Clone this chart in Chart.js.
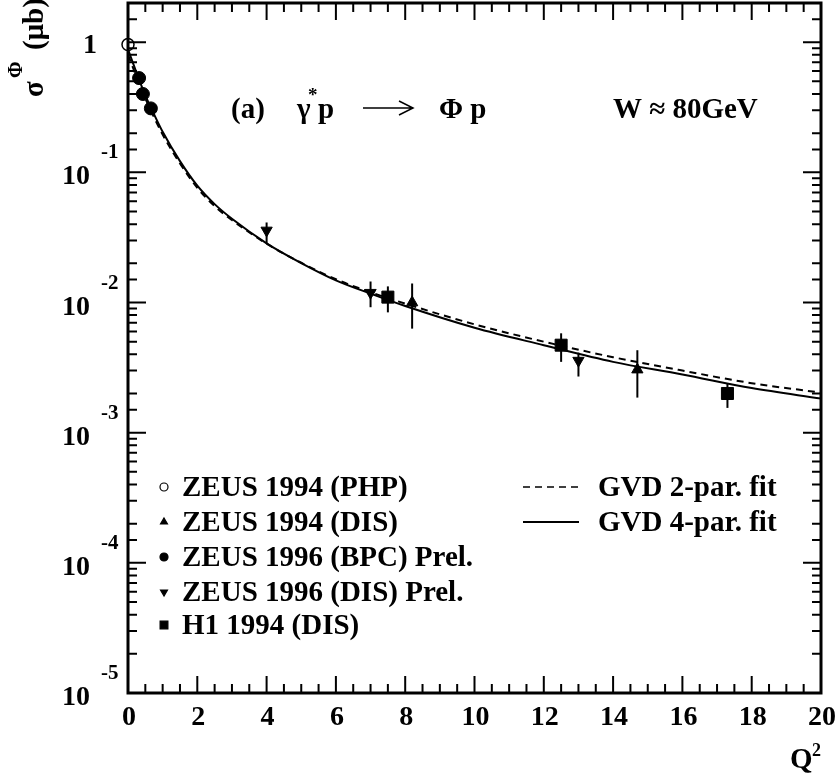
<!DOCTYPE html>
<html>
<head>
<meta charset="utf-8">
<script src="https://cdn.jsdelivr.net/npm/chart.js@4.4.0/dist/chart.umd.min.js"></script>
<style>
  html, body { margin: 0; padding: 0; background: #fff; }
  #wrap { width: 837px; height: 779px; }
</style>
</head>
<body>
<div id="wrap"><canvas id="chart" width="837" height="779"></canvas></div>
<script>
// 数据：ZEUS 1994 (PHP)
const phpQ2 = [0.0];
const phpSigma = [0.96];

// ZEUS 1994 (DIS)
const zeus94Q2 = [8.2, 14.7];
const zeus94Sigma = [0.0100, 0.00305];
const zeus94Hi = [0.0140, 0.0043];
const zeus94Lo = [0.0063, 0.00186];

// ZEUS 1996 (BPC) Prel.
const bpcQ2 = [0.32, 0.43, 0.66];
const bpcSigma = [0.53, 0.40, 0.31];

// ZEUS 1996 (DIS) Prel.
const zeus96Q2 = [4.0, 7.0, 13.0];
const zeus96Sigma = [0.0358, 0.0119, 0.00358];
const zeus96Hi = [0.0412, 0.0145, 0.00412];
const zeus96Lo = [0.0284, 0.0092, 0.0027];

// H1 1994 (DIS)
const h1Q2 = [7.5, 12.5, 17.3];
const h1Sigma = [0.0110, 0.0047, 0.0020];
const h1Hi = [0.0133, 0.0058, 0.0024];
const h1Lo = [0.0084, 0.0035, 0.00155];

// GVD 拟合曲线
const fitQ2 = [0, 0.25, 0.5, 0.75, 1, 1.5, 2, 2.5, 3, 4, 5, 6, 7, 8, 10, 12, 14, 16, 18, 20];
const fit4Par = [0.88, 0.58, 0.39, 0.28, 0.205, 0.122, 0.079, 0.057, 0.044, 0.0285, 0.0201, 0.0148, 0.0117, 0.0094, 0.0064, 0.0047, 0.0035, 0.0028, 0.0022, 0.00183];
const fit2Par = [0.80, 0.54, 0.37, 0.265, 0.195, 0.117, 0.076, 0.055, 0.043, 0.0283, 0.0202, 0.0151, 0.0120, 0.0098, 0.0068, 0.0050, 0.0038, 0.0030, 0.0024, 0.00203];

// 刻度标签
const xTickLabels = [0, 2, 4, 6, 8, 10, 12, 14, 16, 18, 20];
const yExponents = [0, -1, -2, -3, -4, -5];

const legendLeft = ['ZEUS 1994 (PHP)', 'ZEUS 1994 (DIS)', 'ZEUS 1996 (BPC) Prel.', 'ZEUS 1996 (DIS) Prel.', 'H1 1994 (DIS)'];
const legendRight = ['GVD 2-par. fit', 'GVD 4-par. fit'];

const SERIF = '"Liberation Serif", "Times New Roman", serif';

function pts(xs, ys) {
    return xs.map((x, i) => ({ x: x, y: ys[i] }));
}

function scatterSet(label, xs, ys, style, radius, filled, rotation) {
    return {
        type: 'scatter',
        label: label,
        data: pts(xs, ys),
        pointStyle: style,
        pointRadius: radius,
        pointRotation: rotation || 0,
        pointBackgroundColor: filled ? '#000' : '#fff',
        pointBorderColor: '#000',
        pointBorderWidth: filled ? 1 : 1.5,
        showLine: false,
        clip: false
    };
}

// 误差棒
const errorBars = [
    { xs: zeus94Q2, lo: zeus94Lo, hi: zeus94Hi },
    { xs: zeus96Q2, lo: zeus96Lo, hi: zeus96Hi },
    { xs: h1Q2, lo: h1Lo, hi: h1Hi }
];

const errorBarPlugin = {
    id: 'errorBars',
    beforeDatasetsDraw(chart) {
        const { ctx, scales: { x, y } } = chart;
        ctx.save();
        ctx.strokeStyle = '#000';
        ctx.lineWidth = 2;
        errorBars.forEach(s => {
            s.xs.forEach((q, i) => {
                const px = x.getPixelForValue(q);
                ctx.beginPath();
                ctx.moveTo(px, y.getPixelForValue(s.lo[i]));
                ctx.lineTo(px, y.getPixelForValue(s.hi[i]));
                ctx.stroke();
            });
        });
        ctx.restore();
    }
};

// 坐标框、刻度和文字（ROOT 风格）
const framePlugin = {
    id: 'frame',
    afterDraw(chart) {
        const { ctx, chartArea: a, scales: { x, y } } = chart;
        ctx.save();
        ctx.strokeStyle = '#000';
        ctx.fillStyle = '#000';

        // 刻度线
        ctx.lineWidth = 2;
        y.ticks.forEach(t => {
            const py = y.getPixelForValue(t.value);
            if (py < a.top - 0.5 || py > a.bottom + 0.5) return;
            const major = Math.abs(Math.log10(t.value) - Math.round(Math.log10(t.value))) < 1e-6;
            const len = major ? 18 : 9;
            ctx.beginPath();
            ctx.moveTo(a.left, py); ctx.lineTo(a.left + len, py);
            ctx.moveTo(a.right, py); ctx.lineTo(a.right - len, py);
            ctx.stroke();
        });
        x.ticks.forEach(t => {
            const px = x.getPixelForValue(t.value);
            const major = Math.abs(t.value / 2 - Math.round(t.value / 2)) < 1e-6;
            const len = major ? 17 : 9;
            ctx.beginPath();
            ctx.moveTo(px, a.bottom); ctx.lineTo(px, a.bottom - len);
            ctx.moveTo(px, a.top); ctx.lineTo(px, a.top + len);
            ctx.stroke();
        });

        // 边框
        ctx.lineWidth = 3;
        ctx.strokeRect(a.left, a.top, a.right - a.left, a.bottom - a.top);

        // x 轴标签
        ctx.font = 'bold 28px ' + SERIF;
        ctx.textAlign = 'center';
        ctx.textBaseline = 'alphabetic';
        xTickLabels.forEach(v => {
            ctx.fillText(String(v), x.getPixelForValue(v) + 1, a.bottom + 32);
        });

        // y 轴标签
        yExponents.forEach(e => {
            const py = y.getPixelForValue(Math.pow(10, e));
            ctx.font = 'bold 28px ' + SERIF;
            ctx.textAlign = 'right';
            if (e === 0) {
                ctx.fillText('1', 97, py + 11);
            } else {
                ctx.fillText('10', 90, py + 12);
                ctx.font = 'bold 21px ' + SERIF;
                ctx.textAlign = 'left';
                ctx.fillText(String(e), 101, py - 14);
            }
        });

        // 坐标轴标题
        ctx.textAlign = 'left';
        ctx.font = 'bold 29px ' + SERIF;
        ctx.fillText('Q', 790, 768);
        ctx.font = 'bold 18px ' + SERIF;
        ctx.fillText('2', 812, 756);

        ctx.save();
        ctx.translate(43, 97);
        ctx.rotate(-Math.PI / 2);
        ctx.font = 'bold 29px ' + SERIF;
        ctx.fillText('σ', 0, 0);
        ctx.font = 'bold 20px ' + SERIF;
        ctx.fillText('Φ', 19, -21);
        ctx.font = 'bold 29px ' + SERIF;
        ctx.fillText('(μb)', 47, 0);
        ctx.restore();

        // 反应式
        ctx.font = 'bold 29px ' + SERIF;
        ctx.fillText('(a)', 231, 118);
        ctx.fillText('γ', 297, 118);
        ctx.font = 'bold 19px ' + SERIF;
        ctx.fillText('*', 308, 101);
        ctx.font = 'bold 29px ' + SERIF;
        ctx.fillText('p', 318, 118);
        ctx.lineWidth = 1.5;
        ctx.beginPath();
        ctx.moveTo(363, 108); ctx.lineTo(412, 108);
        ctx.moveTo(399, 101); ctx.lineTo(413, 108); ctx.lineTo(399, 115);
        ctx.stroke();
        ctx.fillText('Φ p', 439, 118);
        ctx.fillText('W ≈ 80GeV', 613, 118);

        // 图例
        const rowsY = [487, 522, 557, 592, 625];
        const markers = [
            { pointStyle: 'circle', radius: 4, fill: '#fff', rotation: 0 },
            { pointStyle: 'triangle', radius: 4, fill: '#000', rotation: 0 },
            { pointStyle: 'circle', radius: 4, fill: '#000', rotation: 0 },
            { pointStyle: 'triangle', radius: 4, fill: '#000', rotation: 180 },
            { pointStyle: 'rect', radius: 5.5, fill: '#000', rotation: 0 }
        ];
        legendLeft.forEach((txt, i) => {
            const m = markers[i];
            ctx.fillStyle = m.fill;
            ctx.strokeStyle = '#000';
            ctx.lineWidth = 1.2;
            Chart.helpers.drawPoint(ctx, { pointStyle: m.pointStyle, radius: m.radius, rotation: m.rotation, borderWidth: 1.2 }, 164, rowsY[i]);
            ctx.fillStyle = '#000';
            ctx.font = 'bold 29px ' + SERIF;
            ctx.textAlign = 'left';
            ctx.fillText(txt, 182, rowsY[i] + 9);
        });
        legendRight.forEach((txt, i) => {
            const ly = rowsY[i];
            ctx.lineWidth = i === 0 ? 1.6 : 2;
            ctx.setLineDash(i === 0 ? [7, 5] : []);
            ctx.beginPath();
            ctx.moveTo(523, ly); ctx.lineTo(579, ly);
            ctx.stroke();
            ctx.setLineDash([]);
            ctx.fillText(txt, 598, ly + 9);
        });

        ctx.restore();
    }
};

const chart = new Chart(document.getElementById('chart'), {
    data: {
        datasets: [
            {
                type: 'line',
                label: legendRight[0],
                data: pts(fitQ2, fit2Par),
                borderColor: '#000',
                borderWidth: 2,
                borderDash: [7, 5],
                pointRadius: 0,
                cubicInterpolationMode: 'monotone',
                fill: false
            },
            {
                type: 'line',
                label: legendRight[1],
                data: pts(fitQ2, fit4Par),
                borderColor: '#000',
                borderWidth: 2,
                pointRadius: 0,
                cubicInterpolationMode: 'monotone',
                fill: false
            },
            scatterSet(legendLeft[0], phpQ2, phpSigma, 'circle', 6, false),
            scatterSet(legendLeft[1], zeus94Q2, zeus94Sigma, 'triangle', 6.5, true),
            scatterSet(legendLeft[2], bpcQ2, bpcSigma, 'circle', 6.5, true),
            scatterSet(legendLeft[3], zeus96Q2, zeus96Sigma, 'triangle', 6.5, true, 180),
            scatterSet(legendLeft[4], h1Q2, h1Sigma, 'rect', 8.5, true)
        ]
    },
    options: {
        responsive: false,
        animation: false,
        layout: { autoPadding: false, padding: { left: 128, top: 3, right: 16, bottom: 86 } },
        plugins: {
            legend: { display: false },
            tooltip: { enabled: false }
        },
        scales: {
            x: {
                type: 'linear',
                min: 0,
                max: 20,
                ticks: { display: false, stepSize: 0.5 },
                grid: { display: false, drawTicks: false },
                border: { display: false }
            },
            y: {
                type: 'logarithmic',
                min: 1e-5,
                max: 2,
                ticks: { display: false },
                grid: { display: false, drawTicks: false },
                border: { display: false }
            }
        }
    },
    plugins: [errorBarPlugin, framePlugin]
});
</script>
</body>
</html>
